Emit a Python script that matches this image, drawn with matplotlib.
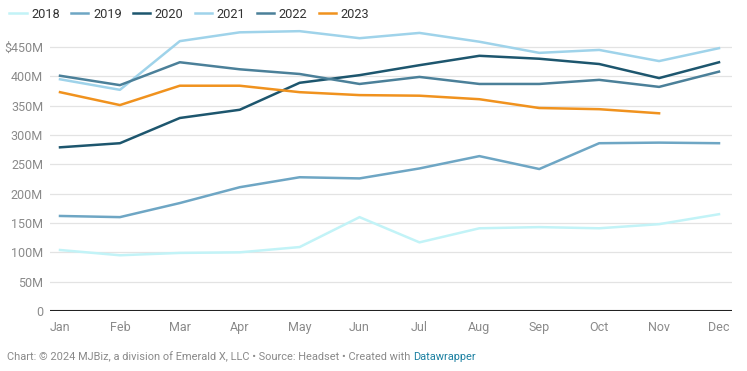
import matplotlib.pyplot as plt
from matplotlib.ticker import FixedLocator

plt.rcParams['font.family'] = ['Roboto', 'DejaVu Sans']

months = ['Jan', 'Feb', 'Mar', 'Apr', 'May', 'Jun', 'Jul', 'Aug', 'Sep', 'Oct', 'Nov', 'Dec']

# продажи в млн $
sales_2018 = [104, 95, 99, 100, 109, 160, 117, 141, 143, 141, 148, 165]
sales_2019 = [162, 160, 184, 211, 228, 226, 243, 264, 242, 286, 287, 286]
sales_2020 = [279, 286, 329, 343, 389, 402, 419, 435, 430, 421, 397, 424]
sales_2021 = [395, 377, 460, 475, 477, 465, 474, 459, 440, 445, 426, 448]
sales_2022 = [401, 385, 424, 412, 404, 387, 399, 387, 387, 394, 382, 408]
sales_2023 = [373, 351, 384, 384, 373, 368, 367, 361, 346, 344, 337]

series = [
    ('2018', sales_2018, '#c2f3f7'),
    ('2019', sales_2019, '#6ea6c4'),
    ('2020', sales_2020, '#1d566e'),
    ('2021', sales_2021, '#9fd3ea'),
    ('2022', sales_2022, '#4b8099'),
    ('2023', sales_2023, '#f0921e'),
]

y_ticks = [0, 50, 100, 150, 200, 250, 300, 350, 400, 450]
y_labels = ['0', '50M', '100M', '150M', '200M', '250M', '300M', '350M', '400M', '$450M']

fig = plt.figure(figsize=(7.47, 3.71), dpi=100)
ax = fig.add_axes([50 / 747, 1 - 311 / 371, 682 / 747, (311 - 29.4) / 371])

for label, values, color in series:
    ax.plot(range(len(values)), values, color=color, linewidth=1.8, label=label,
            solid_joinstyle='round', clip_on=False, zorder=3)

ax.set_xlim(-10 / 59.9, 11 + 13 / 59.9)
ax.set_ylim(0, 480)
ax.yaxis.set_major_locator(FixedLocator(y_ticks))
ax.set_yticklabels(y_labels)
ax.set_xticks(range(12))
ax.set_xticklabels(months)

ax.grid(axis='y', color='#e3e3e3', linewidth=0.9, zorder=0)
ax.axhline(0, color='#222222', linewidth=1.5, zorder=4)
for side in ['top', 'right', 'left', 'bottom']:
    ax.spines[side].set_visible(False)
ax.tick_params(axis='both', length=0, labelsize=9, labelcolor='#8a8a8a')
ax.tick_params(axis='y', pad=5)
ax.tick_params(axis='x', pad=7)

fig.legend(loc='upper left', bbox_to_anchor=(-0.003, 1.01), ncol=6, frameon=False,
           handlelength=1.35, handletextpad=0.35, columnspacing=0.9, fontsize=9.2,
           labelcolor='#333333')

# подпись внизу: серый текст + синяя ссылка сразу после него
footer = fig.text(7 / 747, 1 - 357 / 371,
                  'Chart: © 2024 MJBiz, a division of Emerald X, LLC • Source: Headset • Created with ',
                  fontsize=7.9, color='#8a8a8a', va='center')
renderer = fig.canvas.get_renderer()
bbox = footer.get_window_extent(renderer=renderer)
fig.text(bbox.x1 / fig.bbox.width, 1 - 357 / 371, 'Datawrapper',
         fontsize=7.9, color='#1d81a2', va='center')

fig.savefig('out.png', dpi=100, facecolor='white')
